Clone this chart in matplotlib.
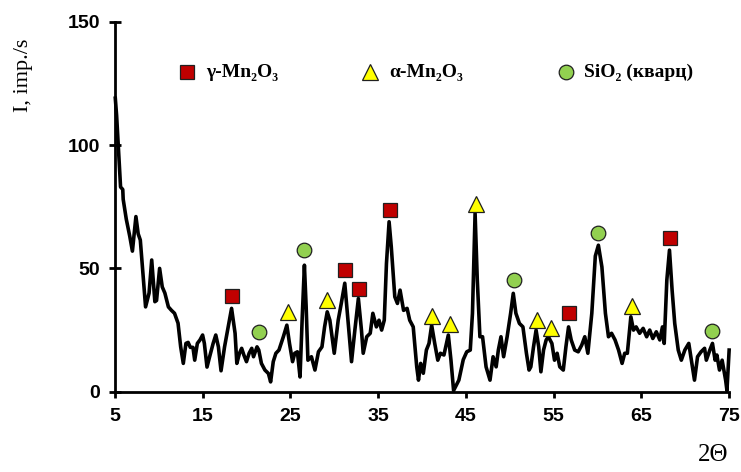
import matplotlib
matplotlib.use("Agg")
import matplotlib.pyplot as plt

# дифрактограмма: 2Θ и интенсивность (imp./s)
two_theta = [5.05, 5.2, 5.4, 5.65, 5.9, 5.95, 6.3, 6.7, 7.0, 7.4, 7.66, 7.9, 8.2, 8.5, 8.9,
             9.2, 9.56, 9.75, 10.1, 10.4, 10.7, 11.1, 11.45, 11.8, 12.2, 12.5, 12.8, 13.1,
             13.35, 13.6, 13.9, 14.1, 14.4, 14.7, 15.0, 15.2, 15.5, 15.8, 16.2, 16.5, 16.8,
             17.1, 17.5, 17.9, 18.3, 18.7, 18.9, 19.2, 19.45, 19.7, 20.0, 20.3, 20.6, 20.8,
             21.2, 21.4, 21.7, 22.1, 22.5, 22.75, 23.05, 23.35, 23.7, 24.2, 24.6, 24.9,
             25.25, 25.5, 25.8, 26.1, 26.35, 26.6, 26.8, 27.0, 27.4, 27.8, 28.2, 28.6, 28.9,
             29.2, 29.5, 30.0, 30.45, 30.8, 31.2, 31.6, 31.97, 32.35, 32.75, 33.1, 33.3,
             33.7, 34.1, 34.4, 34.8, 35.1, 35.4, 35.7, 35.95, 36.25, 36.5, 36.9, 37.2, 37.5,
             37.9, 38.3, 38.6, 39.0, 39.4, 39.6, 39.85, 40.15, 40.5, 40.8, 41.1, 41.45, 41.8,
             42.1, 42.5, 43.0, 43.3, 43.6, 44.2, 44.7, 45.1, 45.5, 45.75, 46.05, 46.3, 46.6,
             46.9, 47.3, 47.75, 48.1, 48.45, 48.7, 49.0, 49.3, 49.7, 50.1, 50.4, 50.7, 51.1,
             51.5, 51.9, 52.2, 52.4, 52.7, 53.0, 53.3, 53.55, 53.85, 54.15, 54.4, 54.8, 55.1,
             55.4, 55.7, 56.1, 56.4, 56.7, 57.0, 57.4, 57.8, 58.2, 58.55, 58.9, 59.35, 59.75,
             60.1, 60.5, 60.9, 61.25, 61.6, 62.0, 62.4, 62.8, 63.1, 63.4, 63.8, 64.1, 64.4,
             64.8, 65.2, 65.6, 65.95, 66.3, 66.7, 67.1, 67.4, 67.6, 67.9, 68.2, 68.5, 68.8,
             69.2, 69.55, 69.95, 70.4, 70.7, 71.05, 71.4, 71.8, 72.2, 72.4, 72.8, 73.1, 73.4,
             73.6, 73.9, 74.2, 74.6, 74.75, 75.0]
intensity = [119, 112, 99, 83, 82, 78, 70, 63, 57, 71, 64, 61.5, 48, 34.4, 40,
             53.4, 36.5, 37, 50, 42.5, 40, 34.4, 33, 31.8, 27.8, 18.2, 11.5, 19.6,
             20, 18, 18, 12.8, 19.6, 21, 23, 19.6, 10, 14.2, 19.6, 23, 18.2,
             8.5, 18.2, 26, 33.8, 23.7, 11.5, 15.6, 17.6, 14.9, 12.2, 15.6, 17.6, 14.2,
             18.2, 16.9, 11.5, 8.8, 7.4, 4, 12.2, 15.6, 16.9, 22.3, 27, 19.6,
             12.2, 15.6, 16.2, 6, 30, 51.3, 34.4, 12.8, 14.2, 8.8, 16.2, 18.2, 26.3,
             32.4, 29, 15.6, 29, 35.8, 44, 27.7, 12.2, 25, 37.8, 25, 15.6,
             22.3, 23.7, 31.8, 26.3, 29, 25, 29, 52, 68.9, 58.7, 38.5, 35.8, 41.2,
             33, 33.8, 29, 26.3, 10.1, 4.7, 11.5, 7.5, 16.9, 19.6, 27, 19.6, 12.8,
             15.6, 14.9, 23, 12.8, 0.5, 4.7, 13, 16.2, 16.9, 31.8, 72.3, 45.3, 22.3,
             22.3, 10.1, 4.7, 14.2, 10.1, 16.9, 22.3, 14.2, 22.3, 31.8, 39.9, 31.8, 27.7,
             26.3, 15.6, 8.8, 10.1, 18, 25, 18.2, 8.1, 16.9, 21, 22.3, 19.6, 12.8,
             15.6, 10.1, 8.8, 18.2, 26.3, 21, 16.9, 16.2, 18.9, 22.3, 15.6, 31.8, 55,
             59.4, 50.6, 31.8, 22.3, 23.7, 21, 16.9, 11.5, 15.6, 15.6, 30.4, 25, 26.3,
             23.7, 25.7, 22.3, 25, 21.6, 24.3, 21, 26.3, 19.6, 45.3, 57.4, 41.2, 27.7,
             16.9, 12.8, 16.9, 19.6, 12.8, 4.7, 14.2, 16.2, 17.6, 12.8, 16.9, 19.6, 12.8,
             14.9, 8.8, 12.8, 4.7, 0.5, 16.9]

# отметки фаз (положение значков)
gamma_x = [18.3, 31.2, 32.8, 36.3, 56.7, 68.3]
gamma_y = [39, 49.3, 41.5, 73.6, 31.8, 62.2]
alpha_x = [24.7, 29.2, 41.1, 43.2, 46.1, 53.05, 54.7, 63.9]
alpha_y = [32.4, 37.2, 30.7, 27.4, 76, 29, 25.7, 34.7]
quartz_x = [21.4, 26.6, 50.5, 60.0, 73.1]
quartz_y = [24.3, 57.4, 45.3, 64.4, 24.7]

phase_names = ["γ-Mn₂O₃", "α-Mn₂O₃", "SiO₂ (кварц)"]

serif = ["Liberation Serif", "DejaVu Serif"]

fig = plt.figure(figsize=(7.41, 4.72), dpi=100)
ax = fig.add_axes([0.155, 0.170, 0.829, 0.784])

ax.plot(two_theta, intensity, color="black", lw=2.6, clip_on=False, zorder=2,
        solid_joinstyle="round")

mk = dict(linestyle="none", markeredgecolor="#202020", markeredgewidth=0.9, zorder=3, clip_on=False)
ax.plot(gamma_x, gamma_y, marker="s", markersize=10, markerfacecolor="#C00000", **mk)
ax.plot(alpha_x, alpha_y, marker="^", markersize=11, markerfacecolor="#FFFF00", **mk)
ax.plot(quartz_x, quartz_y, marker="o", markersize=10.5, markerfacecolor="#92D050", **mk)

# подписи фаз вверху
leg_y = 129.5
ax.plot([13.2], [leg_y], marker="s", markersize=10, markerfacecolor="#C00000", **mk)
ax.plot([34.1], [leg_y], marker="^", markersize=11, markerfacecolor="#FFFF00", **mk)
ax.plot([56.4], [leg_y], marker="o", markersize=10.5, markerfacecolor="#92D050", **mk)
for x0, name in zip([15.4, 36.3, 58.5], phase_names):
    ax.text(x0, leg_y, name, family=serif, fontweight="bold", fontsize=14,
            ha="left", va="center")

ax.set_xlim(5, 75)
ax.set_ylim(0, 150)
ax.set_xticks([5, 15, 25, 35, 45, 55, 65, 75])
ax.set_yticks([0, 50, 100, 150])

for s in ["top", "right"]:
    ax.spines[s].set_visible(False)
for s in ["left", "bottom"]:
    ax.spines[s].set_linewidth(2)

ax.tick_params(axis="y", direction="inout", length=9, width=2, pad=6, labelsize=14)
ax.tick_params(axis="x", direction="out", length=4, width=2, pad=8, labelsize=14)
for lab in ax.get_xticklabels() + ax.get_yticklabels():
    lab.set_family(["Liberation Sans", "DejaVu Sans"])
    lab.set_fontweight("bold")

fig.text(0.032, 0.84, "I, imp./s", family=serif, fontsize=16, rotation=90,
         ha="center", va="center")
fig.text(0.962, 0.035, "2Θ", family=serif, fontsize=18, ha="center", va="center")

fig.savefig("out.png", dpi=100)
